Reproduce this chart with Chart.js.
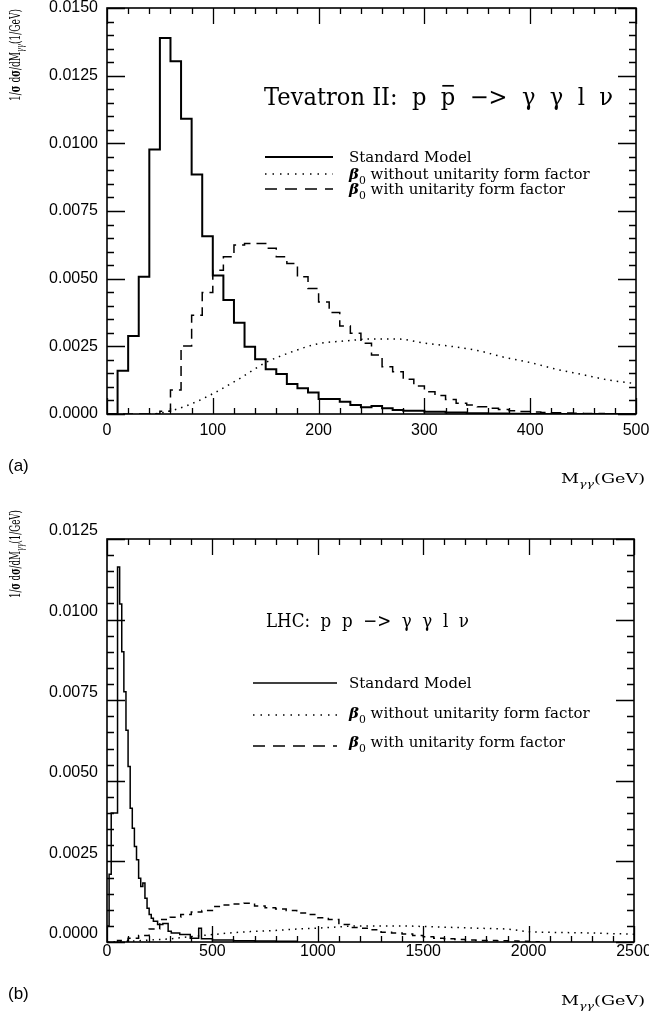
<!DOCTYPE html>
<html>
<head>
<meta charset="utf-8">
<script src="https://cdn.jsdelivr.net/npm/chart.js@4.4.1/dist/chart.umd.min.js"></script>
<style>
  body { margin: 0; background: #fff; }
  #wrap { position: relative; width: 649px; height: 1017px; }
  canvas { position: absolute; left: 0; }
  #tevChart { top: 0; }
  #lhcChart { top: 500px; }
</style>
</head>
<body>
<div id="wrap">
  <canvas id="tevChart" width="649" height="500"></canvas>
  <canvas id="lhcChart" width="649" height="517"></canvas>
</div>
<script>
// ---- (a) Tevatron II : bin left edges (GeV) and normalised distributions ----
const tevMass = [0, 10, 20, 30, 40, 50, 60, 70, 80, 90,
  100, 110, 120, 130, 140, 150, 160, 170, 180, 190,
  200, 210, 220, 230, 240, 250, 260, 270, 280, 290,
  300, 310, 320, 330, 340, 350, 360, 370, 380, 390,
  400, 410, 420, 430, 440, 450, 460, 470, 480, 490];
const tevLastEdge = 500;
const tevSM = [0, 0.0016, 0.00288, 0.00507, 0.00977, 0.01389, 0.01303, 0.01091, 0.00885, 0.00657,
  0.00512, 0.00421, 0.00337, 0.00248, 0.00202, 0.00165, 0.00148, 0.00111, 0.00095, 0.00079,
  0.00055, 0.00055, 0.00045, 0.00033, 0.00025, 0.0003, 0.00021, 0.00015, 0.00012, 0.00012,
  0.00008, 0.00008, 0.00006, 0.00006, 0.00003, 0.00003, 0.00002, 0.00002, 0.00001, 0.00001,
  0, 0, 0, 0, 0, 0, 0, 0, 0, 0];
const tevWithFF = [0, 0, 0, 0, 0, 0.0001, 0.00089, 0.00251, 0.00365, 0.00449,
  0.00531, 0.00581, 0.00624, 0.0063, 0.0063, 0.00612, 0.00581, 0.00556, 0.00507, 0.00464,
  0.00414, 0.00375, 0.00325, 0.00298, 0.00261, 0.00218, 0.00175, 0.00156, 0.00128, 0.00103,
  0.00082, 0.00068, 0.00054, 0.0004, 0.00033, 0.00027, 0.00021, 0.00017, 0.00012, 0.00009,
  0.00007, 0.00006, 0.00005, 0.00004, 0.00003, 0.00002, 0.00002, 0.00001, 0, 0];
const tevNoFFMass = [40, 50, 75, 100, 125, 150, 175, 200, 225, 250, 275, 300, 325, 350, 375, 400, 425, 450, 475, 500];
const tevNoFF = [0, 0.00003, 0.0003, 0.00075, 0.0013, 0.0019, 0.0023, 0.0026, 0.0027, 0.00277,
  0.00277, 0.00262, 0.0025, 0.00235, 0.0021, 0.0019, 0.00165, 0.00145, 0.00125, 0.00112];
const tevXTicks = [0, 100, 200, 300, 400, 500];
const tevYTicks = [0, 0.0025, 0.005, 0.0075, 0.01, 0.0125, 0.015];

// ---- (b) LHC ----
const lhcSMMass = [0, 10, 20, 30, 40, 50, 60, 70, 80, 90,
  100, 110, 120, 130, 140, 150, 160, 170, 180, 190,
  200, 210, 220, 240, 265, 290, 305, 345, 395, 435,
  448, 500, 600, 700, 800];
const lhcSMLastEdge = 900;
const lhcSM = [0.0005, 0.0021, 0.004, 0.004, 0.004, 0.01163, 0.01048, 0.009, 0.00776, 0.00657,
  0.00544, 0.00415, 0.00353, 0.00296, 0.00255, 0.00198, 0.00172, 0.00183, 0.00136, 0.00105,
  0.00085, 0.00074, 0.00064, 0.00054, 0.00057, 0.00033, 0.00028, 0.00023, 0.00012, 0.00043,
  0.0001, 0.00006, 0.00004, 0.00003, 0.00002];
const lhcFFMass = [50, 100, 150, 200, 250, 300, 350, 400, 450, 500,
  550, 600, 650, 700, 750, 800, 850, 900, 950, 1000,
  1050, 1100, 1150, 1200, 1250, 1300, 1350, 1400, 1450, 1500,
  1550, 1600, 1650, 1700, 1750, 1800, 1850, 1900, 1950, 2000];
const lhcFFLastEdge = 2050;
const lhcWithFF = [0.00005, 0.00012, 0.0002, 0.0004, 0.0007, 0.00077, 0.00085, 0.00093, 0.00098, 0.0011,
  0.00115, 0.00118, 0.0012, 0.00112, 0.00106, 0.00102, 0.00098, 0.0009, 0.00085, 0.00075,
  0.0007, 0.00054, 0.00045, 0.00043, 0.00038, 0.0003, 0.00028, 0.00025, 0.0002, 0.00016,
  0.00012, 0.0001, 0.00008, 0.00006, 0.00005, 0.00005, 0.00004, 0.00003, 0.00002, 0.00001];
const lhcNoFFMass = [0, 100, 200, 300, 400, 500, 600, 700, 800, 900, 1000, 1100, 1200,
  1300, 1400, 1500, 1600, 1700, 1800, 1900, 2000, 2100, 2200, 2300, 2400, 2500];
const lhcNoFF = [0, 0.00002, 0.00006, 0.0001, 0.00017, 0.00023, 0.00029, 0.00033, 0.00036, 0.0004,
  0.00043, 0.00047, 0.0005, 0.0005, 0.0005, 0.00048, 0.00046, 0.00044, 0.00042, 0.0004,
  0.00032, 0.0003, 0.00029, 0.00028, 0.00026, 0.00024];
const lhcXTicks = [0, 500, 1000, 1500, 2000, 2500];
const lhcYTicks = [0, 0.0025, 0.005, 0.0075, 0.01, 0.0125];

const SERIF = "'DejaVu Serif', 'Liberation Serif', serif";
Chart.defaults.font.family = "'Liberation Sans', Arial, sans-serif";
Chart.defaults.font.size = 16;
Chart.defaults.color = '#000';

// histogram outline: leading 0, bin values, closing 0
function histPoints(edges, values, lastEdge) {
  const pts = [{ x: edges[0], y: 0 }];
  edges.forEach((m, i) => pts.push({ x: m, y: values[i] }));
  pts.push({ x: lastEdge, y: 0 });
  return pts;
}

function drawRich(ctx, parts, x, y, size) {
  let cx = x;
  parts.forEach(p => {
    const s = p.sub ? size * 0.72 : size;
    ctx.font = (p.italic ? 'italic ' : '') + (p.bold ? 'bold ' : '') + s + 'px ' + SERIF;
    ctx.fillText(p.t, cx, y + (p.sub ? size * 0.3 : 0));
    const w = ctx.measureText(p.t).width;
    if (p.bar) {
      ctx.beginPath();
      ctx.lineWidth = size * 0.07;
      ctx.moveTo(cx + w * 0.1, y - size * 0.8);
      ctx.lineTo(cx + w * 0.9, y - size * 0.8);
      ctx.stroke();
    }
    cx += w;
  });
  return cx - x;
}

function richWidth(ctx, parts, size) {
  let w = 0;
  parts.forEach(p => {
    const s = p.sub ? size * 0.72 : size;
    ctx.font = (p.italic ? 'italic ' : '') + (p.bold ? 'bold ' : '') + s + 'px ' + SERIF;
    w += ctx.measureText(p.t).width;
  });
  return w;
}

// text squeezed/stretched to a measured length
function drawFitted(ctx, t, rotate) {
  ctx.save();
  ctx.translate(t.x, t.y);
  if (rotate) ctx.rotate(-Math.PI / 2);
  ctx.scale(t.len / richWidth(ctx, t.parts, t.size), 1);
  drawRich(ctx, t.parts, 0, 0, t.size);
  ctx.restore();
}

// frame, inward ticks on all four sides, and the text inside/around the plot
const decorPlugin = {
  id: 'decor',
  afterDraw(chart, args, o) {
    const { ctx, chartArea: a, scales: { x, y } } = chart;
    ctx.save();
    ctx.strokeStyle = '#000';
    ctx.fillStyle = '#000';
    ctx.lineWidth = 1.6;
    ctx.strokeRect(a.left, a.top, a.right - a.left, a.bottom - a.top);

    ctx.lineWidth = 1.3;
    ctx.beginPath();
    const nx = Math.round((x.max - x.min) / o.xMinor);
    for (let k = 0; k <= nx; k++) {
      const px = Math.round(x.getPixelForValue(x.min + k * o.xMinor)) + 0.5;
      const len = k % 5 === 0 ? 16 : 6;
      ctx.moveTo(px, a.bottom); ctx.lineTo(px, a.bottom - len);
      ctx.moveTo(px, a.top); ctx.lineTo(px, a.top + len);
    }
    const ny = Math.round((y.max - y.min) / o.yMinor);
    for (let k = 0; k <= ny; k++) {
      const py = Math.round(y.getPixelForValue(y.min + k * o.yMinor)) + 0.5;
      const len = k % 5 === 0 ? 18 : 7;
      ctx.moveTo(a.left, py); ctx.lineTo(a.left + len, py);
      ctx.moveTo(a.right, py); ctx.lineTo(a.right - len, py);
    }
    ctx.stroke();

    ctx.textBaseline = 'alphabetic';
    // process title
    drawFitted(ctx, o.title, false);

    // legend
    const lg = o.legend;
    lg.rows.forEach(r => {
      ctx.beginPath();
      ctx.lineWidth = r.width;
      ctx.setLineDash(r.dash);
      ctx.moveTo(lg.x1, r.y);
      ctx.lineTo(lg.x2, r.y);
      ctx.stroke();
      ctx.setLineDash([]);
      drawRich(ctx, r.parts, lg.tx, r.ty, lg.size);
    });

    drawFitted(ctx, o.yTitle, true);
    drawFitted(ctx, o.xTitle, false);

    // panel tag
    ctx.font = "17px 'Liberation Sans', Arial, sans-serif";
    ctx.fillText(o.tag.t, o.tag.x, o.tag.y);
    ctx.restore();
  }
};

const legendParts = [
  [{ t: 'Standard Model' }],
  [{ t: 'β', bold: true, italic: true }, { t: '0', sub: true }, { t: ' without unitarity form factor' }],
  [{ t: 'β', bold: true, italic: true }, { t: '0', sub: true }, { t: ' with unitarity form factor' }]
];
const yTitleParts = [{ t: '1/' }, { t: 'σ', bold: true }, { t: ' d' }, { t: 'σ', bold: true },
  { t: '/dM' }, { t: 'γγ', sub: true, italic: true }, { t: '(1/GeV)' }];
const xTitleParts = [{ t: 'M' }, { t: 'γγ', sub: true, italic: true }, { t: '(GeV)' }];

function makePanel(canvasId, p) {
  return new Chart(document.getElementById(canvasId), {
    type: 'line',
    data: {
      datasets: [
        {
          label: 'Standard Model',
          data: histPoints(p.smMass, p.sm, p.smLast),
          stepped: 'before',
          borderColor: '#000',
          borderWidth: p.smWidth,
          pointRadius: 0,
          fill: false
        },
        {
          label: 'β0 without unitarity form factor',
          data: p.noFFMass.map((m, i) => ({ x: m, y: p.noFF[i] })),
          borderColor: '#000',
          borderWidth: 1.5,
          borderDash: [1.5, 5],
          cubicInterpolationMode: 'monotone',
          pointRadius: 0,
          fill: false
        },
        {
          label: 'β0 with unitarity form factor',
          data: histPoints(p.ffMass, p.ff, p.ffLast),
          stepped: 'before',
          borderColor: '#000',
          borderWidth: 1.5,
          borderDash: p.ffDash,
          pointRadius: 0,
          fill: false
        }
      ]
    },
    options: {
      responsive: false,
      animation: false,
      events: [],
      layout: { padding: p.padding },
      plugins: {
        legend: { display: false },
        tooltip: { enabled: false },
        decor: p.decor
      },
      scales: {
        x: {
          type: 'linear',
          min: p.xTicks[0],
          max: p.xTicks[p.xTicks.length - 1],
          grid: { display: false, drawTicks: false },
          border: { display: false },
          ticks: { padding: p.xLabelPad, maxRotation: 0, callback: v => String(v) },
          afterBuildTicks: s => { s.ticks = p.xTicks.map(v => ({ value: v })); },
          afterFit: s => { s.height = 30; s.paddingLeft = 0; s.paddingRight = 0; }
        },
        y: {
          type: 'linear',
          min: 0,
          max: p.yTicks[p.yTicks.length - 1],
          grid: { display: false, drawTicks: false },
          border: { display: false },
          ticks: { padding: 9, labelOffset: p.yLabelOffset, callback: v => v.toFixed(4) },
          afterBuildTicks: s => { s.ticks = p.yTicks.map(v => ({ value: v })); },
          afterFit: s => { s.width = 107; s.paddingTop = 0; s.paddingBottom = 0; }
        }
      }
    },
    plugins: [decorPlugin]
  });
}

makePanel('tevChart', {
  smMass: tevMass, sm: tevSM, smLast: tevLastEdge, smWidth: 2,
  ffMass: tevMass, ff: tevWithFF, ffLast: tevLastEdge, ffDash: [10, 6],
  noFFMass: tevNoFFMass, noFF: tevNoFF,
  xTicks: tevXTicks, yTicks: tevYTicks,
  xLabelPad: 7, yLabelOffset: 0,
  padding: { left: 0, right: 13, top: 8, bottom: 56 },
  decor: {
    xMinor: 20, yMinor: 0.0005,
    title: { x: 264, y: 105, size: 24, len: 349, parts: [{ t: 'Tevatron II:  p  ' }, { t: 'p', bar: true }, { t: '  −>  γ  γ  l  ν' }] },
    legend: {
      x1: 265, x2: 333, tx: 349, size: 15,
      rows: [
        { y: 157, ty: 162, width: 2, dash: [], parts: legendParts[0] },
        { y: 174, ty: 179, width: 1.3, dash: [1.5, 6], parts: legendParts[1] },
        { y: 189, ty: 194, width: 1.5, dash: [12, 8], parts: legendParts[2] }
      ]
    },
    yTitle: { x: 20, y: 101, size: 14, len: 92, parts: yTitleParts },
    xTitle: { x: 561, y: 483, size: 13, len: 84, parts: xTitleParts },
    tag: { t: '(a)', x: 8, y: 471 }
  }
});

makePanel('lhcChart', {
  smMass: lhcSMMass, sm: lhcSM, smLast: lhcSMLastEdge, smWidth: 1.5,
  ffMass: lhcFFMass, ff: lhcWithFF, ffLast: lhcFFLastEdge, ffDash: [6, 5],
  noFFMass: lhcNoFFMass, noFF: lhcNoFF,
  xTicks: lhcXTicks, yTicks: lhcYTicks,
  xLabelPad: 0, yLabelOffset: -8,
  padding: { left: 0, right: 15, top: 39, bottom: 45 },
  decor: {
    xMinor: 100, yMinor: 0.0005,
    title: { x: 266, y: 127, size: 19, len: 203, parts: [{ t: 'LHC:  p  p  −>  γ  γ  l  ν' }] },
    legend: {
      x1: 253, x2: 337, tx: 349, size: 15,
      rows: [
        { y: 183, ty: 188, width: 1.3, dash: [], parts: legendParts[0] },
        { y: 215, ty: 218, width: 1.3, dash: [1.5, 6], parts: legendParts[1] },
        { y: 246, ty: 247, width: 1.5, dash: [12, 8], parts: legendParts[2] }
      ]
    },
    yTitle: { x: 20, y: 98, size: 14, len: 88, parts: yTitleParts },
    xTitle: { x: 561, y: 505, size: 13, len: 84, parts: xTitleParts },
    tag: { t: '(b)', x: 8, y: 499 }
  }
});
</script>
</body>
</html>
